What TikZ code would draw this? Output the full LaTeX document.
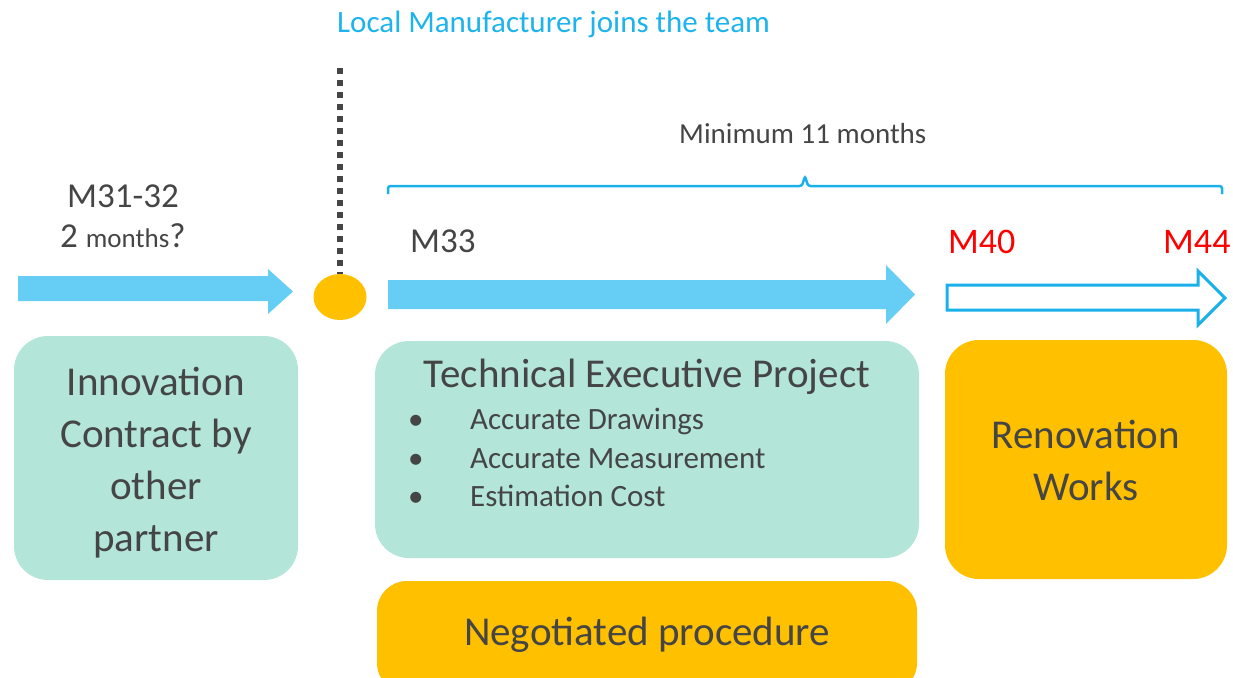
\documentclass[tikz,border=0pt]{standalone}
\usepackage{fontspec}
\setmainfont{Carlito}
\usetikzlibrary{shapes.geometric}
\definecolor{mint}{HTML}{B3E5D9}
\definecolor{gold}{HTML}{FFC000}
\definecolor{sky}{HTML}{66CEF5}
\definecolor{bracec}{HTML}{1AB0EA}
\definecolor{txt}{HTML}{454545}
\definecolor{lmc}{HTML}{1DB3EC}
\definecolor{redm}{HTML}{FF0000}
\tikzset{
  box/.style={rounded corners=34pt, inner sep=0pt},
  bigtext/.style={text=txt, font=\fontsize{41}{52}\selectfont, align=center, inner sep=0pt},
  bullettext/.style={text=txt, font=\fontsize{31}{38.5}\selectfont, align=left, inner sep=0pt, anchor=north west},
  label/.style={inner sep=0pt, anchor=base west},
  blockarrow/.style={fill=sky},
  outlinearrow/.style={draw=bracec, line width=3pt, fill=white, line join=miter},
  dotline/.style={draw=txt, line width=5.5pt, dash pattern=on 5.5pt off 6.5pt},
  bracket/.style={draw=bracec, line width=2.5pt, rounded corners=2.5pt}
}
\begin{document}
\begin{tikzpicture}[x=1pt,y=-1pt]
\useasboundingbox (0,0) rectangle (1233,677);

% boxes
\node[box, fill=mint, minimum width=284pt, minimum height=244pt] (innov) at (156,458) {};
\node[box, fill=mint, minimum width=544pt, minimum height=217pt] (tech) at (647,449.5) {};
\node[box, fill=gold, minimum width=282pt, minimum height=239pt] (renov) at (1086,459.5) {};
\node[box, rounded corners=30pt, fill=gold, minimum width=540pt, minimum height=112pt] (neg) at (647,637) {};

% box texts
\node[bigtext] (innovtext) at (156,463) {Innovation\\Contract by\\other\\partner};
\node[bigtext, anchor=base] (techtitle) at (647,387) {Technical Executive Project};
\node[bullettext] (bullets) at (408,408) {\makebox[62pt][l]{•}Accurate Drawings\\\makebox[62pt][l]{•}Accurate Measurement\\\makebox[62pt][l]{•}Estimation Cost};
\node[bigtext] (renovtext) at (1086,460) {Renovation\\Works};
\node[bigtext, anchor=base] (negtext) at (647,645) {Negotiated procedure};

% arrows
\fill[blockarrow] (18,276) -- (268,276) -- (268,269) -- (293,291.5) -- (268,314) -- (268,301) -- (18,301) -- cycle;
\fill[blockarrow] (388,280) -- (886,280) -- (886,265) -- (915,294.5) -- (886,324) -- (886,309) -- (388,309) -- cycle;
\draw[outlinearrow] (947,285) -- (1198,285) -- (1198,271) -- (1225,298) -- (1198,325) -- (1198,310) -- (947,310) -- cycle;

% milestone dot and dotted line
\node[ellipse, fill=gold, minimum width=53pt, minimum height=46pt, inner sep=0pt] (dot) at (340,297) {};
\coordinate (dtop) at (340,68);
\draw[dotline] (dtop) -- (dot.north);

% bracket
\draw[bracket] (388,194) -- (388,186) -- (802,186) -- (805,176) -- (808,186) -- (1222,186) -- (1222,194);

% labels
\node[label, text=lmc, font=\fontsize{31}{36}\selectfont] (lm) at (337,33) {Local Manufacturer joins the team};
\node[label, text=txt, font=\fontsize{29}{34}\selectfont] (minimum) at (679,143) {Minimum 11 months};
\node[label, text=txt, font=\fontsize{35}{40}\selectfont] (m3132) at (67,207) {M31-32};
\node[label, text=txt, font=\fontsize{35}{40}\selectfont] (twomonths) at (60,247) {2 {\fontsize{27}{32}\selectfont months}?};
\node[label, text=txt, font=\fontsize{35}{40}\selectfont] (m33) at (410,252) {M33};
\node[label, text=redm, font=\fontsize{36}{40}\selectfont] (m40) at (948,253) {M40};
\node[label, text=redm, font=\fontsize{36}{40}\selectfont] (m44) at (1163,253) {M44};
\end{tikzpicture}
\end{document}
